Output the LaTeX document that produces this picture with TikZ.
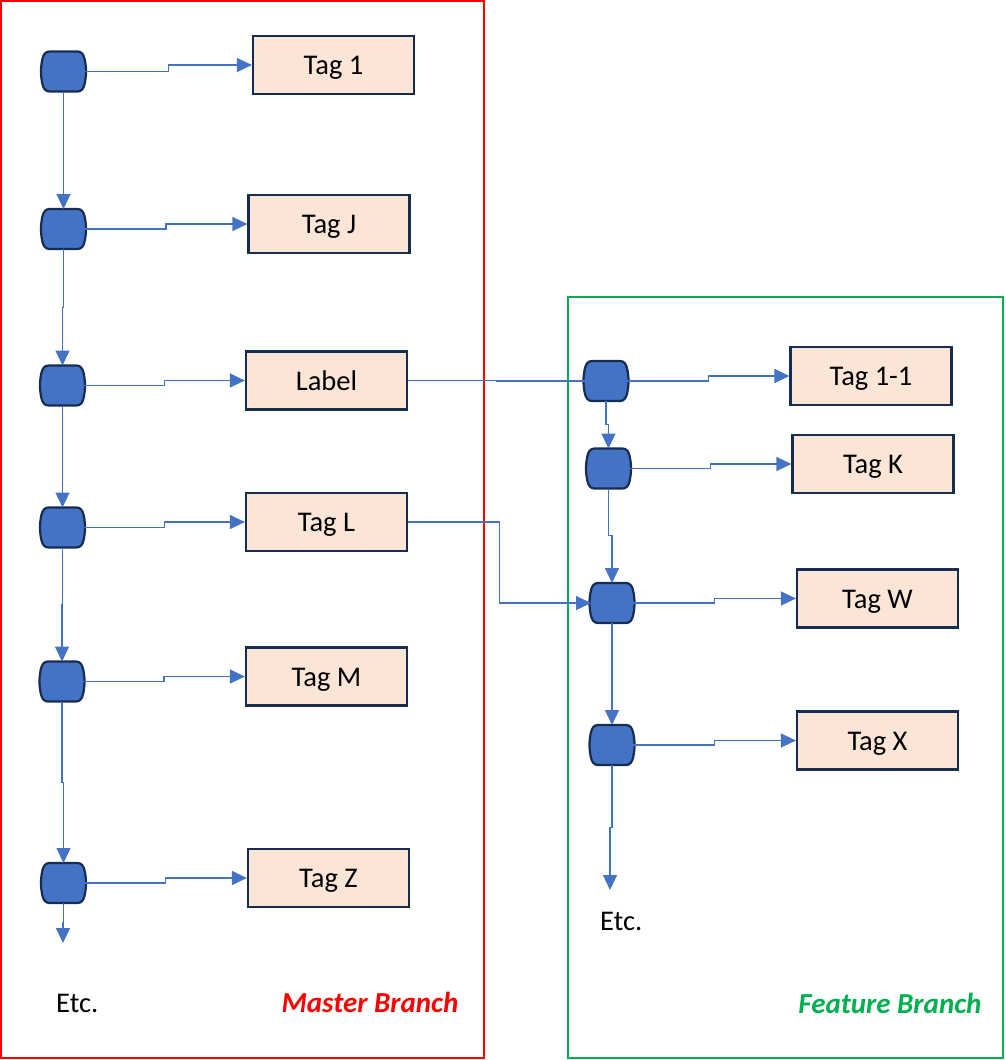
\documentclass[tikz,border=0pt]{standalone}
\usepackage{fontspec}
\setmainfont{Carlito}
\usetikzlibrary{arrows.meta,calc}
\definecolor{commitblue}{HTML}{4472C4}
\definecolor{navy}{HTML}{172C51}
\definecolor{tagfill}{HTML}{FBE5D6}
\definecolor{featgreen}{HTML}{00B050}
\definecolor{masterred}{HTML}{FF0000}

\begin{document}
\begin{tikzpicture}[x=1pt,y=-1pt,
  commitbody/.style={fill=commitblue, draw=navy, line width=2.2pt},
  commit/.style={minimum width=42pt, minimum height=40pt, inner sep=0pt, outer sep=0pt,
    append after command={\pgfextra{%
      \draw[commitbody, shift={(\tikzlastnode.center)}]
        (-14pt,20pt) -- (14pt,20pt)
        .. controls (18pt,20pt) and (20pt,17pt) .. (21pt,13pt)
        .. controls (23pt,4pt) and (23pt,-4pt) .. (21pt,-13pt)
        .. controls (20pt,-17pt) and (18pt,-20pt) .. (14pt,-20pt)
        -- (-14pt,-20pt)
        .. controls (-18pt,-20pt) and (-20pt,-17pt) .. (-21pt,-13pt)
        .. controls (-23pt,-4pt) and (-23pt,4pt) .. (-21pt,13pt)
        .. controls (-20pt,17pt) and (-18pt,20pt) .. (-14pt,20pt) -- cycle;}}},
  tagbox/.style={draw=navy, fill=tagfill, line width=2.2pt, minimum width=161pt,
    minimum height=58pt, inner sep=0pt, text height=20pt, text depth=1pt,
    font=\fontsize{28.5}{32}\selectfont},
  link/.style={draw=commitblue, line width=1.3pt},
  conn/.style={link, -{Triangle[length=15pt,width=14pt]}},
  etc/.style={anchor=base west, inner sep=0pt, font=\fontsize{28.5}{32}\selectfont},
  branchname/.style={anchor=base, inner sep=0pt, font=\fontsize{29}{33}\selectfont\bfseries\itshape},
]
\useasboundingbox (0,0) rectangle (1006,1060);

% branch frames
\draw[masterred, line width=1.5pt] (1,1) rectangle (484,1058);
\draw[featgreen, line width=2.5pt] (568,297) rectangle (1003,1058);

% master branch commits
\node[commit] (m1) at (63.5,71.5) {};
\node[commit] (m2) at (63.5,229) {};
\node[commit] (m3) at (62.5,385.5) {};
\node[commit] (m4) at (62.5,527.5) {};
\node[commit] (m5) at (62,681.5) {};
\node[commit] (m6) at (63.5,883) {};

% master tags
\node[tagbox] (t1)  at (333.5,65)   {Tag 1};
\node[tagbox] (tJ)  at (329,224)    {Tag J};
\node[tagbox] (tLa) at (326.5,380.5){Label};
\node[tagbox] (tL)  at (326.5,522)  {Tag L};
\node[tagbox] (tM)  at (326.5,676.5){Tag M};
\node[tagbox] (tZ)  at (328.5,878)  {Tag Z};

% feature branch commits
\node[commit] (f1) at (606,381) {};
\node[commit] (f2) at (608.5,468.5) {};
\node[commit] (f3) at (612,603) {};
\node[commit] (f4) at (612,745) {};

% feature tags
\node[tagbox] (t11) at (871,376)    {Tag 1-1};
\node[tagbox] (tK)  at (873,464)    {Tag K};
\node[tagbox] (tW)  at (877.5,598.5){Tag W};
\node[tagbox] (tX)  at (877.5,740.5){Tag X};

% open ends of both branches
\coordinate (mEnd) at (63,943);
\coordinate (fEnd) at (610,890);

% commit -> tag
\foreach \c/\t in {m1/t1, m2/tJ, m3/tLa, m4/tL, m5/tM, m6/tZ, f1/t11, f2/tK, f3/tW, f4/tX}
  \draw[conn] (\c.east) -| ($(\c.east)!0.5!(\t.west)$) |- (\t.west);

% commit -> next commit
\foreach \a/\b in {m1/m2, m2/m3, m3/m4, m4/m5, m5/m6, f1/f2, f2/f3, f3/f4}
  \draw[conn] (\a.south) |- ($(\a.south)!0.5!(\b.north)$) -| (\b.north);
\draw[conn] (m6.south) |- ($(m6.south)!0.5!(mEnd)$) -| (mEnd);
\draw[conn] (f4.south) |- ($(f4.south)!0.5!(fEnd)$) -| (fEnd);

% links across branches
\draw[link] (tLa.east) -| ($(tLa.east)!0.5!(f1.west)$) |- (f1.west);
\draw[conn] (tL.east) -| ($(tL.east)!0.5!(f3.west)$) |- (f3.west);

% labels
\node[etc] (etcM) at (56,1012) {Etc.};
\node[etc] (etcF) at (600,930) {Etc.};
\node[branchname, text=masterred] (mname) at (370,1012) {Master Branch};
\node[branchname, text=featgreen] (fname) at (890,1013) {Feature Branch};
\end{tikzpicture}
\end{document}
